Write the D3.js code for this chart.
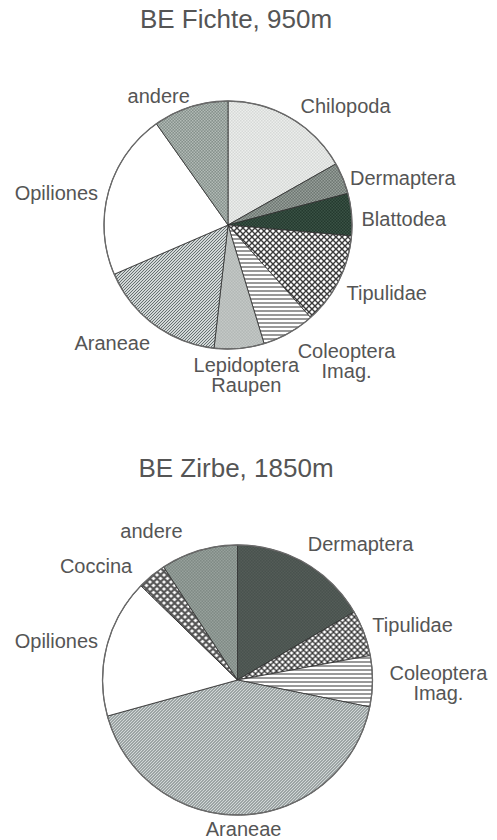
<!DOCTYPE html>
<html>
<head>
<meta charset="utf-8">
<script src="https://cdn.jsdelivr.net/npm/d3@7"></script>
<style>
body { margin: 0; background: #fff; }
text { font-family: "Liberation Sans", Arial, sans-serif; fill: #555; }
</style>
</head>
<body>
<div id="chart"></div>
<script>
var width = 497, height = 840;

// BE Fichte, 950m (percent of catch, clockwise from 12 o'clock)
var fichteTitle = "BE Fichte, 950m";
var fichteLabels = ["Chilopoda", "Dermaptera", "Blattodea", "Tipulidae", "Coleoptera Imag.",
                    "Lepidoptera Raupen", "Araneae", "Opiliones", "andere"];
var fichteValues = [16.8, 4.1, 5.5, 12.0, 6.9, 6.5, 16.7, 21.7, 9.8];

// BE Zirbe, 1850m
var zirbeTitle = "BE Zirbe, 1850m";
var zirbeLabels = ["Dermaptera", "Tipulidae", "Coleoptera Imag.", "Araneae", "Opiliones", "Coccina", "andere"];
var zirbeValues = [16.6, 5.5, 6.1, 42.5, 16.6, 3.5, 9.2];

var svg = d3.select("#chart").append("svg")
	.attr("width", width)
	.attr("height", height);

var defs = svg.append("defs");

// fill patterns (scanned excel look)
function checker(id, a, b, s) {
	var p = defs.append("pattern").attr("id", id).attr("patternUnits", "userSpaceOnUse")
		.attr("width", s * 2).attr("height", s * 2);
	p.append("rect").attr("width", s * 2).attr("height", s * 2).attr("fill", a);
	p.append("rect").attr("width", s).attr("height", s).attr("fill", b);
	p.append("rect").attr("x", s).attr("y", s).attr("width", s).attr("height", s).attr("fill", b);
}
function hatch(id, bg, fg, s, sw, d) {
	var p = defs.append("pattern").attr("id", id).attr("patternUnits", "userSpaceOnUse")
		.attr("width", s).attr("height", s);
	p.append("rect").attr("width", s).attr("height", s).attr("fill", bg);
	p.append("path").attr("d", d).attr("stroke", fg).attr("stroke-width", sw).attr("fill", "none");
}
checker("dotsLight", "#eceeec", "#d6d9d7", 1.5);
checker("dotsMid", "#6d7671", "#979f9a", 1.5);
checker("darkGreen", "#24392e", "#3a5245", 1.5);
checker("dotsDark", "#434c48", "#59625d", 1.5);
checker("andereTop", "#85908b", "#b2bab6", 1.5);
checker("andereBot", "#737e79", "#a3aca7", 1.5);
checker("greyLight", "#b3b8b6", "#c4c8c6", 1.5);
hatch("diamond", "#ffffff", "#3a3a3a", 6, 1.4, "M0,0L6,6M6,0L0,6");
hatch("coccina", "#ffffff", "#555", 7, 2.2, "M0,0L7,7M7,0L0,7");
hatch("hlines", "#ffffff", "#333", 4, 1, "M0,2H4");
hatch("diag", "#d2d7d7", "#667070", 3, 1, "M0,3L3,0M-1,1L1,-1M2,4L4,2");

var fichteFills = {
	"Chilopoda": "url(#dotsLight)", "Dermaptera": "url(#dotsMid)", "Blattodea": "url(#darkGreen)",
	"Tipulidae": "url(#diamond)", "Coleoptera Imag.": "url(#hlines)", "Lepidoptera Raupen": "url(#greyLight)",
	"Araneae": "url(#diag)", "Opiliones": "#ffffff", "andere": "url(#andereTop)"
};
var zirbeFills = {
	"Dermaptera": "url(#dotsDark)", "Tipulidae": "url(#diamond)", "Coleoptera Imag.": "url(#hlines)",
	"Araneae": "url(#diag)", "Opiliones": "#ffffff", "Coccina": "url(#coccina)", "andere": "url(#andereBot)"
};

// label nudges (px) from the default outside position
var fichteNudge = {
	"Chilopoda": [4, -2], "Dermaptera": [-4, 4], "Blattodea": [-2, 6], "Tipulidae": [-3, 7],
	"Coleoptera Imag.": [3, 17], "Lepidoptera Raupen": [6, 15], "Araneae": [3, 9],
	"Opiliones": [1, 5], "andere": [3, 1]
};
var zirbeNudge = {
	"Dermaptera": [-3, -9], "Tipulidae": [-3, -4], "Coleoptera Imag.": [5, 2], "Araneae": [1, 2],
	"Opiliones": [3, -2], "Coccina": [-12, 0], "andere": [-13, -8]
};

function drawPie(title, labels, values, fills, nudges, cfg) {
	svg.append("text")
		.attr("x", cfg.titleX).attr("y", cfg.titleY)
		.attr("text-anchor", "middle")
		.attr("font-size", 26)
		.text(title);

	var g = svg.append("g").attr("transform", "translate(" + cfg.cx + "," + cfg.cy + ")");
	var arcs = d3.pie().sort(null).value(function(d) { return d; })(values);
	var arc = d3.arc().innerRadius(0).outerRadius(cfg.r);

	g.selectAll(".slice")
		.data(arcs)
		.enter()
		.append("path")
		.attr("class", "slice")
		.attr("d", arc)
		.attr("fill", function(d, i) { return fills[labels[i]]; })
		.attr("stroke", "#2e2e2e")
		.attr("stroke-width", 0.8);

	g.append("circle").attr("r", cfg.r)
		.attr("fill", "none").attr("stroke", "#6a6a6a").attr("stroke-width", 1.3);

	var R = cfg.r + 12;
	arcs.forEach(function(d, i) {
		var a = (d.startAngle + d.endAngle) / 2;
		var s = Math.sin(a), c = Math.cos(a);
		var nd = nudges[labels[i]] || [0, 0];
		var lines = labels[i].split(" ");
		var t = g.append("text").attr("text-anchor", "middle").attr("font-size", 20);
		lines.forEach(function(l, j) {
			t.append("tspan").attr("x", 0).attr("y", j * 20).text(l);
		});
		var w = d3.max(t.selectAll("tspan").nodes(), function(n) { return n.getComputedTextLength(); });
		var side = s > 0.25 ? 1 : (s < -0.25 ? -1 : 0);
		var tx = R * s + side * w / 2 + nd[0];
		var ty = -R * c + 7 - (lines.length - 1) * 10 + nd[1];
		t.attr("transform", "translate(" + tx + "," + ty + ")");
	});
}

drawPie(fichteTitle, fichteLabels, fichteValues, fichteFills, fichteNudge,
	{ cx: 228, cy: 225, r: 124, titleX: 236, titleY: 28 });
drawPie(zirbeTitle, zirbeLabels, zirbeValues, zirbeFills, zirbeNudge,
	{ cx: 237.5, cy: 680, r: 135, titleX: 236, titleY: 477 });
</script>
</body>
</html>
